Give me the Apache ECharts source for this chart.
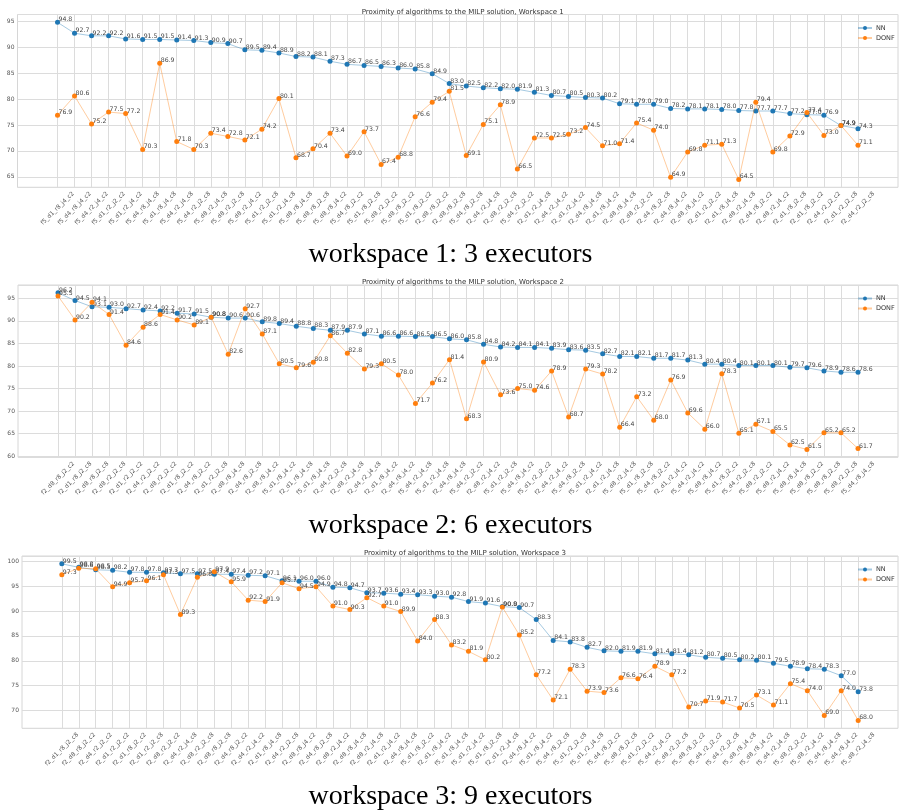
<!DOCTYPE html>
<html><head><meta charset="utf-8">
<script src="https://cdn.jsdelivr.net/npm/echarts@6/dist/echarts.min.js"></script>
<style>html,body{margin:0;padding:0;background:#fff}#c{width:901px;height:811px}</style>
</head><body><div id="c"></div>
<script>
// ---------- Workspace 1 ----------
const CAT1 = ['f5_d1_r8_j4_c2','f5_d4_r8_j4_c2','f5_d4_r2_j4_c2','f5_d1_r2_j2_c2','f5_d1_r2_j4_c2','f5_d4_r8_j4_c8','f5_d1_r8_j4_c8','f5_d4_r2_j4_c8','f5_d4_r2_j2_c8','f5_d8_r2_j4_c8','f5_d8_r2_j2_c8','f5_d8_r2_j4_c2','f5_d1_r2_j2_c8','f5_d1_r2_j4_c8','f5_d8_r8_j4_c8','f5_d8_r8_j2_c8','f5_d8_r8_j4_c2','f5_d4_r8_j2_c2','f5_d1_r8_j2_c8','f5_d8_r2_j2_c2','f5_d8_r8_j2_c2','f5_d1_r8_j2_c2','f2_d8_r8_j2_c2','f2_d8_r8_j2_c8','f5_d4_r8_j2_c8','f2_d4_r2_j4_c8','f2_d8_r2_j2_c8','f5_d4_r2_j2_c2','f2_d1_r2_j4_c8','f2_d4_r2_j4_c2','f2_d1_r2_j4_c2','f2_d4_r8_j4_c8','f2_d1_r8_j4_c2','f2_d8_r8_j4_c8','f2_d8_r2_j2_c2','f2_d4_r8_j2_c8','f2_d4_r8_j4_c2','f2_d8_r8_j4_c2','f2_d1_r2_j2_c2','f2_d1_r8_j4_c8','f2_d8_r2_j4_c8','f2_d4_r8_j2_c2','f2_d8_r2_j4_c2','f2_d1_r8_j2_c8','f2_d1_r8_j2_c2','f2_d4_r2_j2_c2','f2_d1_r2_j2_c8','f2_d4_r2_j2_c8'];
const NN1 = [94.8,92.7,92.2,92.2,91.6,91.5,91.5,91.4,91.3,90.9,90.7,89.5,89.4,88.9,88.2,88.1,87.3,86.7,86.5,86.3,86.0,85.8,84.9,83.0,82.5,82.2,82.0,81.9,81.3,80.7,80.5,80.3,80.2,79.1,79.0,79.0,78.2,78.1,78.1,78.0,77.8,77.7,77.7,77.2,77.0,76.9,74.9,74.3];
const DONF1 = [76.9,80.6,75.2,77.5,77.2,70.3,86.9,71.8,70.3,73.4,72.8,72.1,74.2,80.1,68.7,70.4,73.4,69.0,73.7,67.4,68.8,76.6,79.4,81.5,69.1,75.1,78.9,66.5,72.5,72.5,73.2,74.5,71.0,71.4,75.4,74.0,64.9,69.8,71.1,71.3,64.5,79.4,69.8,72.9,77.4,73.0,74.9,71.1];

// ---------- Workspace 2 ----------
const CAT2 = ['f2_d8_r8_j2_c2','f2_d1_r8_j2_c8','f2_d8_r8_j2_c8','f2_d8_r2_j2_c8','f2_d1_r2_j2_c2','f2_d4_r2_j2_c2','f2_d8_r2_j2_c2','f2_d1_r8_j2_c2','f2_d4_r8_j2_c2','f2_d1_r2_j2_c8','f2_d8_r8_j4_c8','f2_d4_r8_j2_c8','f2_d8_r8_j4_c2','f5_d1_r8_j4_c2','f2_d1_r8_j4_c8','f5_d1_r8_j4_c8','f2_d4_r2_j2_c8','f2_d8_r2_j4_c8','f2_d4_r2_j4_c8','f2_d1_r8_j4_c2','f2_d4_r8_j4_c2','f5_d4_r2_j4_c8','f5_d1_r2_j4_c8','f2_d4_r8_j4_c8','f5_d4_r2_j2_c2','f2_d8_r2_j4_c2','f5_d1_r2_j2_c8','f5_d4_r8_j4_c2','f5_d1_r2_j2_c2','f2_d4_r2_j4_c2','f5_d4_r8_j2_c8','f5_d1_r2_j4_c2','f2_d1_r2_j4_c8','f5_d8_r2_j4_c8','f5_d1_r8_j2_c8','f5_d4_r8_j2_c2','f2_d1_r2_j4_c2','f5_d4_r2_j4_c2','f5_d8_r8_j4_c2','f5_d1_r8_j2_c2','f5_d4_r2_j2_c8','f5_d8_r2_j2_c2','f5_d8_r2_j4_c2','f5_d8_r8_j4_c8','f5_d8_r8_j2_c2','f5_d8_r8_j2_c8','f5_d8_r2_j2_c8','f5_d4_r8_j4_c8'];
const NN2 = [96.2,94.5,93.1,93.0,92.7,92.4,92.2,91.7,91.5,90.8,90.6,90.6,89.8,89.4,88.8,88.3,87.9,87.9,87.1,86.6,86.6,86.5,86.5,86.0,85.8,84.8,84.2,84.1,84.1,83.9,83.6,83.5,82.7,82.1,82.1,81.7,81.7,81.3,80.4,80.4,80.1,80.1,80.1,79.7,79.6,78.9,78.6,78.6];
const DONF2 = [95.5,90.2,94.1,91.4,84.6,88.6,91.4,90.2,89.1,90.8,82.6,92.7,87.1,80.5,79.6,80.8,86.7,82.8,79.3,80.5,78.0,71.7,76.2,81.4,68.3,80.9,73.6,75.0,74.6,78.9,68.7,79.3,78.2,66.4,73.2,68.0,76.9,69.6,66.0,78.3,65.1,67.1,65.5,62.5,61.5,65.2,65.2,61.7];

// ---------- Workspace 3 ----------
const CAT3 = ['f2_d1_r8_j2_c8','f2_d8_r8_j2_c2','f2_d4_r2_j2_c2','f2_d1_r2_j2_c2','f2_d1_r8_j2_c2','f2_d1_r2_j2_c8','f2_d8_r2_j2_c2','f2_d4_r2_j4_c8','f2_d8_r2_j2_c8','f2_d8_r8_j2_c8','f2_d4_r8_j2_c2','f2_d4_r2_j4_c2','f2_d1_r8_j4_c8','f2_d4_r2_j2_c8','f2_d8_r8_j4_c2','f2_d4_r8_j2_c8','f2_d8_r2_j4_c2','f2_d8_r8_j4_c8','f2_d8_r2_j4_c8','f2_d1_r2_j4_c2','f2_d4_r8_j4_c8','f5_d1_r8_j2_c2','f2_d1_r8_j4_c2','f5_d1_r8_j4_c8','f5_d1_r2_j4_c2','f5_d1_r8_j2_c8','f2_d1_r2_j4_c8','f2_d4_r8_j4_c2','f5_d1_r8_j4_c2','f5_d4_r8_j2_c8','f5_d1_r2_j2_c8','f5_d1_r2_j4_c8','f5_d4_r8_j2_c2','f5_d8_r8_j2_c8','f5_d1_r2_j2_c2','f5_d4_r2_j4_c2','f5_d8_r2_j2_c8','f5_d8_r8_j2_c2','f5_d4_r2_j2_c2','f5_d4_r2_j2_c8','f5_d8_r8_j4_c8','f5_d8_r8_j4_c2','f5_d4_r2_j4_c8','f5_d8_r2_j2_c2','f5_d8_r2_j4_c2','f5_d4_r8_j4_c8','f5_d4_r8_j4_c2','f5_d8_r2_j4_c8'];
const NN3 = [99.5,98.8,98.3,98.2,97.8,97.8,97.7,97.5,97.5,97.4,97.4,97.2,97.1,96.1,96.0,96.0,94.8,94.7,93.7,93.6,93.4,93.3,93.0,92.8,91.9,91.6,90.9,90.7,88.3,84.1,83.8,82.7,82.0,81.9,81.9,81.4,81.4,81.2,80.7,80.5,80.2,80.1,79.5,78.9,78.4,78.3,77.0,73.8];
const DONF3 = [97.3,98.6,98.5,94.9,95.7,96.1,97.3,89.3,96.8,97.9,95.9,92.2,91.9,95.7,94.5,94.9,91.0,90.3,92.7,91.0,89.9,84.0,88.3,83.2,81.9,80.2,90.8,85.2,77.2,72.1,78.3,73.9,73.6,76.6,76.4,78.9,77.2,70.7,71.9,71.7,70.5,73.1,71.1,75.4,74.0,69.0,74.0,68.0];

const TITLES = ['Proximity of algorithms to the MILP solution, Workspace 1','Proximity of algorithms to the MILP solution, Workspace 2','Proximity of algorithms to the MILP solution, Workspace 3'];
const CAPTIONS = ['workspace 1: 3 executors','workspace 2: 6 executors','workspace 3: 9 executors'];

const panels = [
  {cat:CAT1, nn:NN1, donf:DONF1, left:17.5, right:898, top:14.5, bottom:187.3, capY:256},
  {cat:CAT2, nn:NN2, donf:DONF2, left:18, right:898, top:285, bottom:457.3, capY:527},
  {cat:CAT3, nn:NN3, donf:DONF3, left:22, right:898, top:556, bottom:728.3, capY:798}
];

const grid = [], xAxis = [], yAxis = [], series = [], title = [], legend = [], graphic = [];
const FONT = 'DejaVu Sans';
const fmt = p => Number(p.value).toFixed(1);

panels.forEach((P, k) => {
  const all = P.nn.concat(P.donf);
  const lo = Math.min(...all), hi = Math.max(...all);
  const pad = (hi - lo) * 0.05;
  const ymin = lo - pad, ymax = hi + pad;
  const W = P.right - P.left, H = P.bottom - P.top;
  const n = P.cat.length;
  const m = W * (0.05 * (n - 1)) / ((n - 1) * 1.1);
  grid.push({left:P.left, top:P.top, width:W, height:H, show:true, borderColor:'#d6d6d6', borderWidth:1, backgroundColor:'#fff'});
  grid.push({left:P.left + m, top:P.top, width:W - 2*m, height:H});
  const gi = 2*k;
  xAxis.push({gridIndex:gi, type:'value', min:0, max:1, show:false});
  yAxis.push({gridIndex:gi, type:'value', min:ymin, max:ymax, minInterval:5, maxInterval:5,
    axisLine:{show:false}, axisTick:{show:false},
    axisLabel:{showMinLabel:false, showMaxLabel:false, fontSize:6, color:'#555', fontFamily:FONT, margin:3},
    splitLine:{show:true, lineStyle:{color:'#dcdcdc', width:1}}});
  xAxis.push({gridIndex:gi+1, type:'category', data:P.cat, boundaryGap:false,
    axisLine:{show:false}, axisTick:{show:false},
    axisLabel:{interval:0, rotate:45, align:'center', verticalAlign:'middle', margin:21, fontSize:6, color:'#555', fontFamily:FONT},
    splitLine:{show:true, interval:0, lineStyle:{color:'#dcdcdc', width:1}}});
  yAxis.push({gridIndex:gi+1, type:'value', min:ymin, max:ymax, show:false, splitLine:{show:false}});
  const mk = (name, data, col, lineCol, z) => ({
    type:'line', name, data, xAxisIndex:gi+1, yAxisIndex:gi+1,
    symbol:'circle', symbolSize:5, showSymbol:true,
    lineStyle:{color:lineCol, width:1}, itemStyle:{color:col},
    label:{show:true, position:'right', distance:0, offset:[-1.5,-2.6], fontSize:6.2, color:'#444', fontFamily:FONT, formatter:fmt},
    emphasis:{disabled:true}, animation:false, z
  });
  series.push(mk('NN', P.nn, '#1f77b4', 'rgba(31,119,180,0.4)', 2));
  series.push(mk('DONF', P.donf, '#ff7f0e', 'rgba(255,127,14,0.4)', 3));
  title.push({text:TITLES[k], left:(P.left+P.right)/2, top:P.top - 11, textAlign:'center',
    textStyle:{fontSize:7, fontWeight:'normal', color:'#333', fontFamily:FONT}});
  legend.push({data:['NN','DONF'], orient:'vertical', left:P.right - 46, top:P.top + 5,
    itemWidth:14, itemHeight:5, itemGap:3, selectedMode:false,
    textStyle:{fontSize:6.5, color:'#333', fontFamily:FONT, padding:[0,0,0,-1]}});
  graphic.push({type:'text', left:'center', top:P.capY - 15,
    style:{text:CAPTIONS[k], font:'28px "Liberation Serif", serif', fill:'#000'}});
});

const chart = echarts.init(document.getElementById('c'), null, {renderer:'canvas'});
chart.setOption({animation:false, backgroundColor:'#fff', grid, xAxis, yAxis, series, title, legend, graphic});
</script></body></html>
